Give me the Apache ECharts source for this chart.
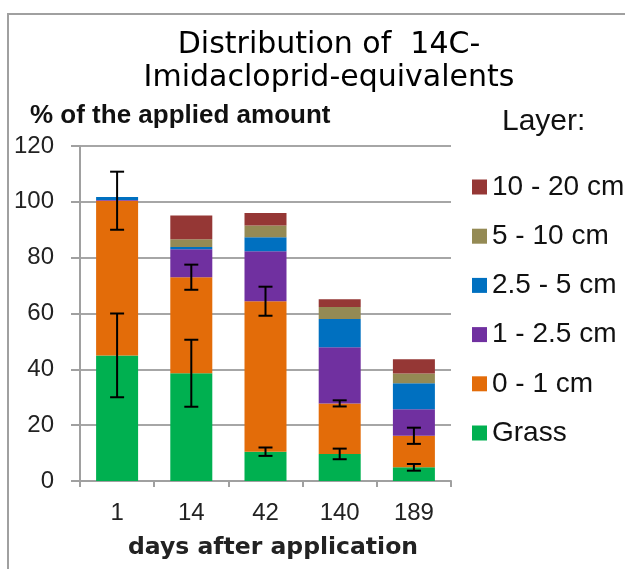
<!DOCTYPE html>
<html><head><meta charset="utf-8">
<script src="https://cdn.jsdelivr.net/npm/echarts@6/dist/echarts.min.js"></script>
<style>html,body{margin:0;padding:0;background:#fff;overflow:hidden}#c{width:625px;height:569px}</style>
</head><body><div id="c"></div>
<script>
// Data
const categories = ['1', '14', '42', '140', '189'];
const grass      = [45.0, 38.6, 10.5, 9.7, 4.9];
const layer0_1   = [55.4, 34.4, 53.9, 18.1, 11.3];
const layer1_25  = [0.3, 10.0, 17.9, 20.1, 9.5];
const layer25_5  = [1.0, 0.8, 5.0, 10.1, 9.3];
const layer5_10  = [0, 2.8, 4.2, 4.3, 3.5];
const layer10_20 = [0, 8.5, 4.5, 2.8, 5.1];
const errGrass   = [15, 12, 1.5, 1.9, 1.2];
const err0_1     = [10.4, 4.5, 5.2, 1.1, 2.9];
const seriesNames = ['Grass', '0 - 1 cm', '1 - 2.5 cm', '2.5 - 5 cm', '5 - 10 cm', '10 - 20 cm'];
const yMin = 0, yMax = 120, yStep = 20;

const colors = ['#00b050', '#e36c09', '#7030a0', '#0070c0', '#948a54', '#953735'];
const values = [grass, layer0_1, layer1_25, layer25_5, layer5_10, layer10_20];

const chart = echarts.init(document.getElementById('c'), null, {renderer: 'canvas', width: 625, height: 569});

function renderErr(params, api) {
  const x = api.value(0), y = api.value(1), e = api.value(2);
  const top = api.coord([x, y + e]);
  const bot = api.coord([x, y - e]);
  const cx = top[0], hw = 7;
  const st = {stroke: '#000', lineWidth: 2};
  return {type: 'group', children: [
    {type: 'line', shape: {x1: cx, y1: top[1], x2: cx, y2: bot[1]}, style: st},
    {type: 'line', shape: {x1: cx - hw, y1: top[1], x2: cx + hw, y2: top[1]}, style: st},
    {type: 'line', shape: {x1: cx - hw, y1: bot[1], x2: cx + hw, y2: bot[1]}, style: st}
  ]};
}

const barSeries = seriesNames.map((n, k) => ({
  name: n, type: 'bar', stack: 'total', barWidth: 42,
  itemStyle: {color: colors[k]}, data: values[k], z: 2
}));

const errGrassData = categories.map((c, i) => [i, grass[i], errGrass[i]]);
const err01Data = categories.map((c, i) => [i, grass[i] + layer0_1[i], err0_1[i]]);

const option = {
  animation: false,
  backgroundColor: '#fff',
  title: {
    text: 'Distribution of  14C-\nImidacloprid-equivalents',
    left: 324, top: 24, textAlign: 'center',
    textStyle: {fontFamily: 'DejaVu Sans', fontSize: 30, fontWeight: 'normal', color: '#000', lineHeight: 33}
  },
  legend: {
    data: seriesNames.slice().reverse(),
    orient: 'vertical', left: 472, top: 172, padding: 0,
    icon: 'rect', itemWidth: 15, itemHeight: 15, itemGap: 19.2,
    textStyle: {fontFamily: 'Liberation Sans', fontSize: 28, color: '#111', lineHeight: 30}
  },
  grid: {left: 80, width: 371, top: 146, height: 335, containLabel: false},
  xAxis: {
    type: 'category', data: categories,
    axisLine: {lineStyle: {color: '#a0a0a0', width: 2}},
    axisTick: {show: true, length: 6, lineStyle: {color: '#a0a0a0', width: 2}},
    axisLabel: {fontFamily: 'Liberation Sans', fontSize: 24, color: '#222', margin: 20},
    name: 'days after application', nameLocation: 'middle', nameGap: 55,
    nameTextStyle: {fontFamily: 'DejaVu Sans', fontWeight: 'bold', fontSize: 23.5, color: '#222', padding: [0, 0, 0, 15]}
  },
  yAxis: {
    type: 'value', min: yMin, max: yMax, interval: yStep,
    axisLine: {show: true, lineStyle: {color: '#a0a0a0', width: 2}},
    axisTick: {show: true, length: 9, lineStyle: {color: '#a0a0a0', width: 2}},
    splitLine: {show: true, lineStyle: {color: '#a6a6a6', width: 2}},
    axisLabel: {fontFamily: 'Liberation Sans', fontSize: 24, color: '#222', margin: 26}
  },
  graphic: [
    {type: 'rect', shape: {x: 8, y: 14, width: 700, height: 700}, style: {fill: 'none', stroke: '#a0a0a0', lineWidth: 2}, z: -1, silent: true},
    {type: 'text', left: 30, top: 103, style: {text: '% of the applied amount', font: 'bold 26px "Liberation Sans"', fill: '#111'}},
    {type: 'text', left: 502, top: 107, style: {text: 'Layer:', font: '30px "Liberation Sans"', fill: '#111'}}
  ],
  series: barSeries.concat([
    {type: 'custom', name: 'errGrass', renderItem: renderErr, data: errGrassData, encode: {x: 0, y: 1}, z: 10},
    {type: 'custom', name: 'err01', renderItem: renderErr, data: err01Data, encode: {x: 0, y: 1}, z: 10}
  ])
};
chart.setOption(option);
</script>
</body></html>
